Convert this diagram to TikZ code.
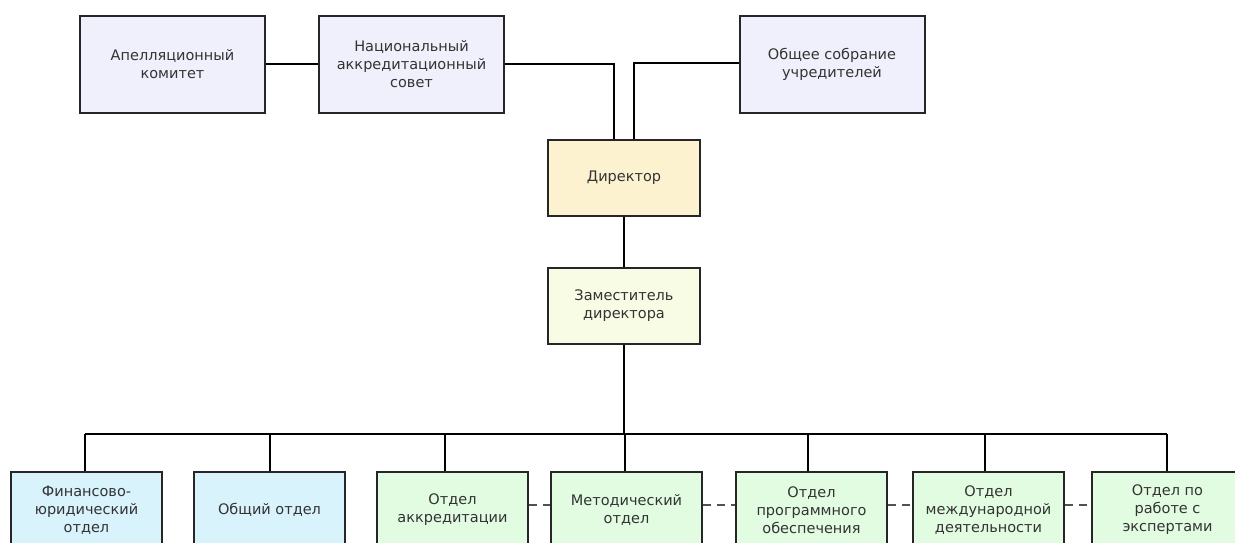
\documentclass[tikz,border=0pt]{standalone}
\usepackage{fontspec}
\setmainfont{DejaVu Sans}
\usepackage{tikz}
\usetikzlibrary{positioning}

\definecolor{topfill}{HTML}{F0F0FC}
\definecolor{dirfill}{HTML}{FCF2D0}
\definecolor{zamfill}{HTML}{F9FCE4}
\definecolor{bluefill}{HTML}{D9F3FD}
\definecolor{greenfill}{HTML}{E2FCE2}
\definecolor{boxline}{HTML}{262626}
\definecolor{txt}{HTML}{333333}

\begin{document}
\begin{tikzpicture}[x=1pt, y=-1pt, line width=2pt]
		\tikzstyle{box}=[draw=boxline, line width=2pt, align=center, inner sep=0pt,
			text=txt, font=\fontsize{14.5}{18}\selectfont]
		\tikzstyle{topbox}=[box, fill=topfill, minimum width=185pt, minimum height=97pt]
		\tikzstyle{midbox}=[box, minimum width=152pt, minimum height=76pt]
		\tikzstyle{dept}=[box, minimum width=151pt, minimum height=76pt]
		\useasboundingbox (0,0) rectangle (1235,543);
		\clip (0,0) rectangle (1235,543);
		% upper level
		\node[topbox] (apk) at (172.5,64.5) {Апелляционный\\комитет};
		\node[topbox, right=52pt of apk] (nac) {Национальный\\аккредитационный\\совет};
		\node[topbox] (obs) at (832,64.5) {Общее собрание\\учредителей};
		\node[midbox, fill=dirfill] (dir) at (624,178) {Директор};
		\node[midbox, fill=zamfill, below=50pt of dir] (zam) {Заместитель\\директора};
		% departments
		\node[dept, fill=bluefill] (b1) at (86.5,510) {Финансово-\\юридический\\отдел};
		\node[dept, fill=bluefill] (b2) at (269.5,510) {Общий отдел};
		\node[dept, fill=greenfill] (b3) at (452.5,510) {Отдел\\аккредитации};
		\node[dept, fill=greenfill, right=21pt of b3] (b4) {Методический\\отдел};
		\node[dept, fill=greenfill, right=32pt of b4] (b5) {Отдел\\программного\\обеспечения};
		\node[dept, fill=greenfill, right=24pt of b5] (b6) {Отдел\\международной\\деятельности};
		\node[dept, fill=greenfill, right=26pt of b6] (b7) {Отдел по\\работе с\\экспертами};
		\coordinate (bus) at (624,434);
		% connectors
		\draw (apk) -- (nac);
		\draw (nac.east) -| ([xshift=-10pt]dir.north);
		\draw ([yshift=1pt]obs.west) -| ([xshift=10pt]dir.north);
		\draw (dir) -- (zam);
		\draw (zam.south) -- (bus);
		\draw ([xshift=-2pt]bus -| b1.north) -- ([xshift=-1pt]bus -| b7.north);
		\foreach \n/\s in {1/-2,2/0,3/-8,4/-2,5/-4,6/-4,7/-1}
			\draw ([xshift=\s pt]b\n.north) -- ([xshift=\s pt]b\n.north |- bus);
		\foreach \a/\b in {b3/b4,b4/b5,b5/b6,b6/b7}
			\draw[draw=boxline!80, dash pattern=on 8pt off 6pt]
			([yshift=5pt]\a.east) -- ([yshift=5pt]\b.west);
	\end{tikzpicture}
\end{document}
